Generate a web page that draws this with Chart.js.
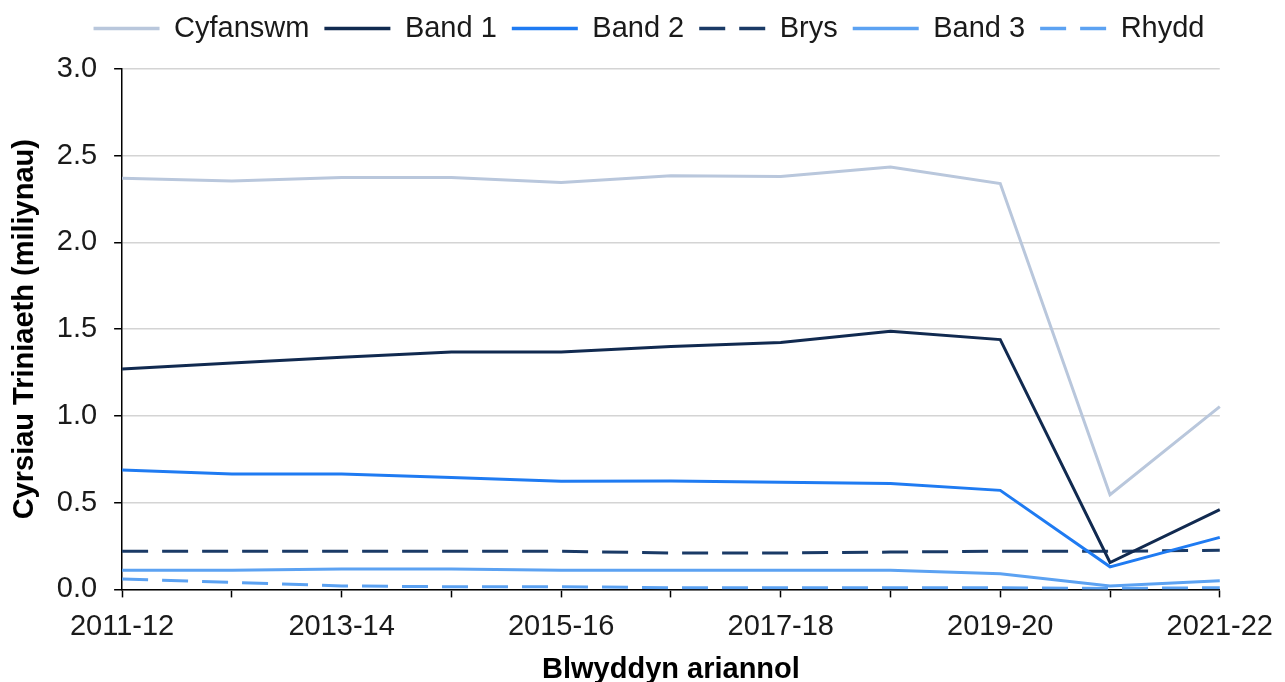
<!DOCTYPE html>
<html>
<head>
<meta charset="utf-8">
<script src="https://cdn.jsdelivr.net/npm/chart.js@4.4.1/dist/chart.umd.min.js"></script>
<style>
  html, body { margin: 0; padding: 0; background: #fff; }
  #wrap { width: 1285px; height: 682px; position: relative; }
</style>
</head>
<body>
<div id="wrap"><canvas id="c" width="1285" height="682"></canvas></div>
<script>
const categories = ['2011-12','2012-13','2013-14','2014-15','2015-16','2016-17','2017-18','2018-19','2019-20','2020-21','2021-22'];
const cyfanswm = [2.37, 2.355, 2.375, 2.375, 2.345, 2.385, 2.38, 2.435, 2.34, 0.546, 1.054];
const band1    = [1.27, 1.305, 1.338, 1.368, 1.368, 1.40, 1.423, 1.488, 1.44, 0.155, 0.46];
const band2    = [0.688, 0.665, 0.665, 0.645, 0.624, 0.625, 0.618, 0.61, 0.571, 0.13, 0.30];
const brys     = [0.22, 0.22, 0.22, 0.22, 0.22, 0.21, 0.21, 0.215, 0.22, 0.22, 0.225];
const band3    = [0.11, 0.11, 0.118, 0.118, 0.11, 0.11, 0.11, 0.11, 0.09, 0.02, 0.05];
const rhydd    = [0.06, 0.04, 0.02, 0.015, 0.015, 0.01, 0.01, 0.01, 0.01, 0.005, 0.01];
const seriesNames = ['Cyfanswm', 'Band 1', 'Band 2', 'Brys', 'Band 3', 'Rhydd'];
const yTicks = [0, 0.5, 1.0, 1.5, 2.0, 2.5, 3.0];

const FONT = "'Liberation Sans', Arial, sans-serif";
const FS = 29;

function ds(label, data, color, dash) {
  return {
    label, data,
    borderColor: color, backgroundColor: color,
    borderWidth: 3, borderDash: dash || [],
    pointRadius: 0, pointHoverRadius: 0, tension: 0,
    fill: false
  };
}

const legendSpacer = {
  id: 'legendSpacer',
  beforeLayout(chart) {
    const lg = chart.legend;
    if (lg && !lg._spaced) {
      const f = lg.fit;
      lg.fit = function() { f.call(this); this.height += 16; };
      const d = lg.draw;
      lg.draw = function() {
        this.left += 16; this.right += 16;
        d.apply(this, arguments);
        this.left -= 16; this.right -= 16;
      };
      lg._spaced = true;
    }
  }
};

new Chart(document.getElementById('c'), {
  type: 'line',
  data: {
    labels: categories,
    datasets: [
      ds(seriesNames[0], cyfanswm, '#B9C7DC'),
      ds(seriesNames[1], band1, '#112A50'),
      ds(seriesNames[2], band2, '#1F7BF2'),
      ds(seriesNames[3], brys, '#1A3A66', [26, 14]),
      ds(seriesNames[4], band3, '#5CA2F2'),
      ds(seriesNames[5], rhydd, '#5CA2F2', [26, 14])
    ]
  },
  plugins: [legendSpacer],
  options: {
    responsive: false,
    animation: false,
    layout: { padding: { left: 4, right: 23, top: -1, bottom: -5 } },
    plugins: {
      tooltip: { enabled: false },
      legend: {
        position: 'top',
        labels: {
          usePointStyle: true,
          pointStyle: 'line',
          pointStyleWidth: 66,
          boxHeight: 4,
          padding: 15,
          color: '#1a1a1a',
          font: { family: FONT, size: FS },
          generateLabels: function(chart) {
            const items = Chart.defaults.plugins.legend.labels.generateLabels(chart);
            items.forEach(it => {
              const d = chart.data.datasets[it.datasetIndex];
              it.lineDash = d.borderDash;
              it.lineWidth = 3.5;
              it.strokeStyle = d.borderColor;
              it.fillStyle = d.borderColor;
              it.pointStyle = 'line';
            });
            return items;
          }
        }
      }
    },
    scales: {
      x: {
        type: 'category',
        offset: false,
        border: { color: '#000', width: 1.5 },
        grid: { display: true, color: 'rgba(0,0,0,0)', tickColor: '#000', tickLength: 8, tickWidth: 1.5, drawOnChartArea: false },
        ticks: {
          autoSkip: false, maxRotation: 0, minRotation: 0,
          color: '#1a1a1a', padding: 12,
          font: { family: FONT, size: FS },
          callback: function(v, i) { return i % 2 === 0 ? categories[i] : ''; }
        },
        title: { display: true, text: 'Blwyddyn ariannol', color: '#000', font: { family: FONT, size: FS, weight: 'bold' }, padding: { top: -4, bottom: 0 } }
      },
      y: {
        min: 0, max: 3.0,
        border: { color: '#000', width: 1.5 },
        grid: { color: '#D4D4D4', lineWidth: 1.5, tickColor: '#000', tickLength: 8 },
        afterBuildTicks: function(scale) { scale.ticks = yTicks.map(v => ({ value: v })); },
        ticks: {
          color: '#1a1a1a', padding: 17,
          font: { family: FONT, size: FS },
          callback: function(v) { return Number(v).toFixed(1); }
        },
        title: { display: true, text: 'Cyrsiau Triniaeth (miliynau)', color: '#000', font: { family: FONT, size: FS, weight: 'bold' }, padding: { top: 4, bottom: -3 } }
      }
    }
  }
});
</script>
</body>
</html>
